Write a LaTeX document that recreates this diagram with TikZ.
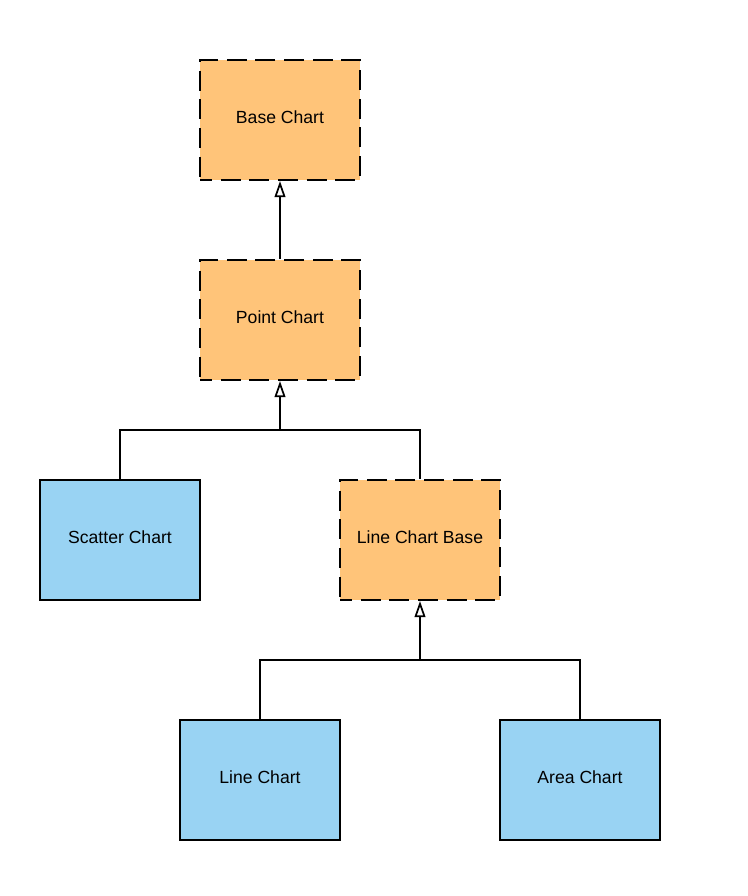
\documentclass[tikz,border=0pt]{standalone}
\usepackage{fontspec}
\setmainfont{Liberation Sans}
\usepackage{tikz}
\usetikzlibrary{arrows.meta}
\definecolor{lorange}{RGB}{255,196,121}
\definecolor{lblue}{RGB}{153,211,243}
\tikzstyle{basebox}=[rectangle,draw=black,line width=1.5pt,minimum width=120pt,minimum height=90pt,inner sep=0pt,text depth=4pt,font=\fontsize{13.2}{15}\selectfont]
\tikzstyle{abstract}=[basebox,fill=lorange,dash pattern=on 15pt off 6.5pt,dash phase=6pt]
\tikzstyle{concrete}=[basebox,fill=lblue]
\tikzstyle{inarrow}=[-{Triangle[open,length=12pt,width=8pt,line width=1.3pt]},line width=1.5pt]
\tikzstyle{simple}=[-,line width=1.5pt]
\pgfdeclarelayer{edgelayer}
\pgfdeclarelayer{nodelayer}
\pgfsetlayers{edgelayer,nodelayer,main}
\begin{document}
\begin{tikzpicture}[x=0.75pt,y=-0.75pt]
	\useasboundingbox (0,0) rectangle (747,896);
	\begin{pgfonlayer}{nodelayer}
		\node [style=abstract] (base) at (280, 120) {Base Chart};
		\node [style=abstract] (point) at (280, 320) {Point Chart};
		\node [style=concrete] (scatter) at (120, 540) {Scatter Chart};
		\node [style=abstract] (lbase) at (420, 540) {Line Chart Base};
		\node [style=concrete] (line) at (260, 780) {Line Chart};
		\node [style=concrete] (area) at (580, 780) {Area Chart};

		\coordinate (j1) at (280, 430);
		\coordinate (j2) at (420, 660);
	\end{pgfonlayer}
	\begin{pgfonlayer}{edgelayer}
		\draw [style=inarrow] (point) to (base);
		\draw [style=inarrow] (j1) to (point);
		\draw [style=simple] (scatter.north) |- (j1);
		\draw [style=simple] (lbase.north) |- (j1);
		\draw [style=inarrow] (j2) to (lbase);
		\draw [style=simple] (line.north) |- (j2);
		\draw [style=simple] (area.north) |- (j2);
	\end{pgfonlayer}
\end{tikzpicture}
\end{document}
